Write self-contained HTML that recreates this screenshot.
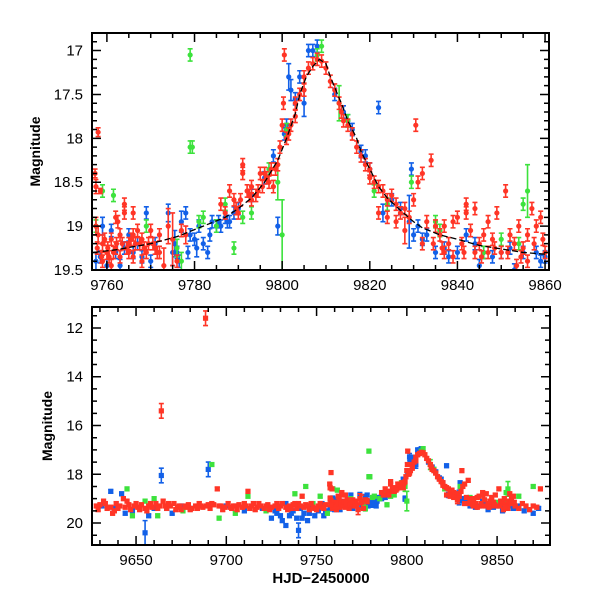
<!DOCTYPE html>
<html><head><meta charset="utf-8"><style>
html,body{margin:0;padding:0;background:#fff}
svg{display:block}
text{font-family:"Liberation Sans",Arial,sans-serif;fill:#000}
</style></head><body>
<svg id="chart" width="600" height="600" viewBox="0 0 600 600">
<defs>
<clipPath id="clipTop"><rect x="92" y="33" width="457" height="237"/></clipPath>
<clipPath id="clipBot"><rect x="92" y="307" width="458" height="238"/></clipPath>
</defs>
</svg>
<script>
// model curve (day, mag)
const modelDays=[9757,9762,9770,9776,9782,9787,9790,9793,9796,9799,9801,9803,9804,9805.5,9807,9808.5,9810,9811,9812,9813.5,9815,9817,9818,9820,9822,9824,9827,9830,9832,9836,9840,9845,9850,9855,9860];
const modelMags=[19.3,19.27,19.2,19.12,19.0,18.9,18.8,18.68,18.5,18.25,18.0,17.72,17.5,17.3,17.18,17.1,17.15,17.3,17.42,17.6,17.8,18.0,18.15,18.35,18.55,18.68,18.82,18.95,19.02,19.1,19.15,19.22,19.26,19.3,19.32];
// red series [day, mag, err]
const redPts=[[9757.3,18.4,.05],[9757.5,18.55,.08],[9758,17.93,.05],[9758.5,18.6,.03],[9757.5,19.0,.1],[9758,19.1,.1],[9759,19.2,.1],[9760,19.3,.08],[9761,19.15],[9762,19.25],[9762.5,18.95],[9763,19.1],[9764,18.75],[9764,18.85],[9765,19.2],[9766,19.1],[9767,19.05],[9767.5,19.2],[9768,19.15],[9769,19.3],[9770,19.05],[9771,19.25],[9772,19.1],[9774,19.0,.2],[9775,19.15,.3],[9776,19.4],[9777,19.05],[9773,19.45,.2],[9759,19.4],[9760.5,19.35],[9761,19.45],[9763,19.35],[9765,19.3],[9768,19.4],[9770.5,19.2],[9772,19.3],[9766,19.35],[9778,19.1,.1],
[9759.5,19.15],[9760.2,19.25],[9761.5,19.3],[9762.2,19.2],[9763.5,19.2],[9764.5,19.25],[9765.5,19.15],[9766.5,19.2],[9768.5,19.25],[9769.5,19.2],[9771.5,19.3],[9762,18.9],[9766,18.85],[9758.8,19.35],[9757.8,19.25],
[9786,18.75],[9787,18.85],[9789.5,18.8],[9790.5,18.7],[9792.5,18.65],[9794.5,18.6],[9795.5,18.55],[9796.5,18.45],[9798.5,18.35],
[9788,18.6],[9789,18.7],[9790,18.85],[9791,18.3],[9791,18.4],[9792,18.6],[9793,18.7],[9793,18.55],[9794,18.65],[9795,18.4],[9796,18.4],[9797,18.5],[9797.5,18.35],[9798,18.55],[9799,18.3],[9799.5,18.1],[9800,17.85],[9800.3,17.6],[9800.5,17.05],[9801,18.0],[9801.5,17.95],[9802,17.85],[9803,17.6],[9803,17.75],[9804,17.5],[9805,17.45],[9805,17.3],[9806,17.2],[9807,17.15],[9808,17.1],[9809,17.12],[9810,17.2],[9811,17.35],[9812,17.45],[9813,17.6],[9813.5,17.7],[9814,17.8],[9815,17.85],[9816,17.95],[9817,18.1],[9818,18.2],[9819,18.3],[9820,18.35],[9820,18.45],[9821,18.5],[9822,18.55],[9823,18.6],[9824,18.7],[9825,18.65],[9826,18.75],[9827,18.85],[9828,18.8],[9829,18.9],[9830,18.7],[9830.5,17.85],[9831,18.5],[9832,18.4],[9833,18.95],[9834,18.25],[9835,19.0],[9836,19.1],[9837,19.0],[9838,19.2],[9839,18.95],[9840,18.9],[9841,19.2],[9842,18.75],[9842,18.85],[9843,19.05],[9844,18.8],[9845,19.2],[9846,19.1],[9847,18.95],[9848,19.15],[9849,18.85],[9850,19.3],[9851,18.6],[9852,19.1],[9853,19.2],[9854,19.0],[9855,19.25],[9856,19.4],[9856,19.1],[9857,18.8],[9858,19.0],[9859,18.9],[9860,19.3],[9853.5,19.45],[9847,19.3],[9837,19.3],[9839,19.35],[9844,19.3],[9822,18.85],[9824,18.9],[9826,18.95],[9828,19.05,.15],[9832,19.2],
[9834.5,19.2],[9836.5,19.25],[9841.5,19.3],[9845.5,19.35],[9848.5,19.25],[9851.5,19.3],[9854.5,19.35],[9857.5,19.2],[9859.5,19.15],
[9628,19.3],[9630,19.25],[9632,19.1],[9634,19.4],[9636,19.35],[9637,19.6],[9639,19.2],[9641,19.3],[9643,19.0],[9645,19.1],[9647,19.45],[9649,19.3],[9651,19.35],[9653,19.25],[9655,19.4],[9657,19.3],[9659,19.35],[9661,19.2],[9663,19.3],[9664,15.4,.3],[9665,19.1],[9667,19.4],[9669,19.3],[9671,19.2],[9673,19.35],[9675,19.45],[9677,19.3],[9679,19.25],[9681,19.4],[9683,19.3],[9685,19.2],[9687,19.35],[9688.5,11.6,.3],[9689,19.3],[9691,19.4],[9693,19.25],[9695,18.6],[9697,19.3],[9699,19.35],[9701,19.2],[9703,19.4],[9705,19.3],[9707,19.25],[9709,19.35],[9711,19.3],[9713,19.4],[9715,19.2],[9717,19.35],[9719,19.3],[9721,19.4],[9723,19.25],[9725,19.35],[9727,19.3],[9729,19.4],[9731,19.2],[9733,19.35],[9735,19.3],[9737,19.25],[9739,19.4],[9741,19.3],[9743,19.35],[9745,19.3],[9747,19.2],[9749,19.4],[9751,19.3],[9753,19.35],[9755,19.25],[9629,19.45],[9633,19.2],[9638,19.5],[9644,19.35],[9650,19.2],[9656,19.5],[9662,19.4],[9668,19.2],[9674,19.3],[9680,19.45],[9686,19.3],[9692,19.2],[9698,19.45],[9704,19.3],[9710,19.2],[9716,19.45],[9722,19.3],[9728,19.2],[9734,19.45],[9740,19.2],[9746,19.45],[9752,19.2],[9712,18.7],[9742,18.9],[9862,19.4],[9864,19.2],[9866,19.3],[9868,19.45],[9870,19.3],[9872,19.35],[9874,18.6],
[9640,19.4],[9646,19.25],[9652,19.45],[9658,19.2],[9666,19.3],[9672,19.45],[9678,19.35],[9684,19.4],[9690,19.25],[9696,19.3],[9702,19.35],[9706,19.45],[9714,19.3],[9718,19.2],[9724,19.45],[9730,19.3],[9736,19.4],[9738,19.2],[9744,19.25],[9748,19.35],[9750,19.45],[9754,19.4]];
// blue series
const bluePts=[[9757.5,19.4,.1],[9758.5,19.35],[9759,19.0,.1],[9760,19.45],[9761,19.05],[9762,19.3],[9763,19.45],[9764,19.25],[9765,19.1],[9766,19.3],[9767,19.2],[9768,19.35],[9769,18.85],[9770,19.4],[9771,19.2],[9774,18.85,.1],[9775,19.3,.15],[9776,19.3],[9777,18.95,.12],[9778,18.85],[9779,19.1],[9780,19.15],[9781,19.0],[9782,19.2],[9783,19.3],[9784,18.95],[9785,19.0],[9786,19.0],[9787,18.9],[9788,18.95],[9790,18.8],[9793,18.65],[9796,18.45],[9798,18.2],[9799,19.0,.1],[9800.5,17.95],[9801,17.85],[9801.5,17.3,.15],[9802,17.45,.12],[9803,17.55],[9804,17.3],[9805,17.6,.15],[9806,17.0],[9807,17.0],[9808,16.95],[9812,17.5],[9814,17.7],[9815,17.8],[9816,17.9],[9818,18.15],[9819,18.2],[9820,18.35],[9822,17.65],[9823,18.85,.1],[9825,18.7],[9827,18.8],[9829,18.95,.3],[9829.5,18.35],[9830,19.1],[9831,19.0],[9832,19.15],[9833,19.1],[9835,19.3],[9837,19.25],[9838,19.35],[9840,19.3],[9842,19.1],[9844,19.2],[9846,19.3],[9848,19.35],[9850,19.3],[9852,19.25],[9855,19.3],[9858,19.3],[9859,19.4],[9860,19.35],[9845,19.45],[9853,19.5],
[9775.5,19.2,.15],[9776.5,19.4],[9778.5,19.3],[9780.5,19.25,.1],[9783.5,19.1],[9785.5,18.95],[9787.5,18.95],[9789,18.85],
[9631,19.3],[9636,18.7],[9638,19.4],[9642,18.8],[9644,19.6],[9648,19.5],[9655,20.4,.5],[9657,19.7],[9660,19.4],[9664,18.05,.3],[9667,19.4],[9670,19.6],[9675,19.3],[9680,19.4],[9690,17.8,.3],[9700,19.3],[9710,19.5],[9720,19.4],[9725,19.8],[9728,19.6],[9731,19.9],[9733,20.1],[9735,19.7],[9737,19.5],[9739,19.8],[9741,19.4],[9743,19.6],[9745,19.9],[9747,19.3],[9749,19.7],[9751,19.5],[9753,19.2],[9755,19.5],[9740,20.3,.3],[9733,19.2],[9862,19.3],[9865,19.5],[9870,19.6],[9873,19.4],
[9727,19.5],[9730,19.7],[9736,19.6],[9742,19.8],[9746,19.6],[9750,19.4],[9754,19.7]];
// green series
const greenPts=[[9757.5,19.0],[9759,18.6],[9761.5,18.65],[9769,19.0],[9776,19.25,.1],[9777,19.4,.1],[9779,17.05],[9779,18.1],[9779.5,18.1],[9781,18.95],[9782,18.9],[9785,19.0],[9787,18.75],[9789,19.25],[9791,18.9],[9793,18.85],[9797,18.35],[9799,18.5,.2],[9800,19.1,.4],[9801,17.9],[9808,17.05],[9809,16.95],[9813,17.6,.2],[9815,17.8],[9821,18.6],[9824,18.75],[9829.5,18.5],[9835,18.95],[9836,19.05],[9846,19.3],[9850,19.15],[9854,19.2],[9855,18.75],[9856,18.6,.3],
[9634,19.35],[9645,18.6],[9648,19.7],[9655,19.1],[9660,19.0],[9662,19.7],[9676,19.5],[9692,17.6],[9696,19.8],[9705,19.6],[9712,18.9],[9722,19.5],[9738,18.8],[9744,18.5],[9748,19.2],[9752,18.9],[9756,19.6],[9862,18.9],[9870,18.5]];
const topXTicks=[9760,9780,9800,9820,9840,9860];
const topYTicks=[17,17.5,18,18.5,19,19.5];
const botXTicks=[9650,9700,9750,9800,9850];
const botYTicks=[12,14,16,18,20];

const NS='http://www.w3.org/2000/svg';
const svg=document.getElementById('chart');
function mk(tag,attrs,parent){const e=document.createElementNS(NS,tag);for(const k in attrs)e.setAttribute(k,attrs[k]);(parent||svg).appendChild(e);return e;}

const panels=[
 {name:'top',x0:92,x1:549,y0:33,y1:270,d0:9756.6,d1:9860.9,m0:16.8,m1:19.5,clip:'clipTop',xt:topXTicks,yt:topYTicks,xMinor:5,yMinor:0.1,sq:false},
 {name:'bottom',x0:92,x1:550,y0:307,y1:545,d0:9625.6,d1:9879.3,m0:11.14,m1:20.9,clip:'clipBot',xt:botXTicks,yt:botYTicks,xMinor:10,yMinor:0.5,sq:true}
];
const colors={red:'#ff3526',blue:'#1260e8',green:'#3de23d'};

panels.forEach(p=>{
 const sx=d=>p.x0+(d-p.d0)/(p.d1-p.d0)*(p.x1-p.x0);
 const sy=m=>p.y0+(m-p.m0)/(p.m1-p.m0)*(p.y1-p.y0);
 const g=mk('g',{'clip-path':'url(#'+p.clip+')'});
 
 
 const series=[['blue',bluePts],['green',greenPts],['red',redPts]];
 series.forEach(([c,pts])=>{
  const sg=mk('g',{},g);
  
  
  pts.forEach(pt=>{
   const e=pt[2]===undefined?0.07:pt[2];
   const x=sx(pt[0]),y=sy(pt[1]),ya=sy(pt[1]-e),yb=sy(pt[1]+e);
   mk('path',{d:`M${x},${ya}V${yb}M${x-2.5},${ya}H${x+2.5}M${x-2.5},${yb}H${x+2.5}`,stroke:colors[c],'stroke-width':1.6,fill:'none'},sg);
   let m;
   if(p.sq){m=mk('rect',{x:x-2.6,y:y-2.6,width:5.2,height:5.2,fill:colors[c]},sg);}
   else{m=mk('circle',{cx:x,cy:y,r:2.6,fill:colors[c]},sg);}
   
   
  });
 });
 if(p.name==='top'){
  let d='';modelDays.forEach((dd,i)=>{d+=(i?'L':'M')+sx(dd)+','+sy(modelMags[i]);});
  const ml=mk('path',{d:d,stroke:'#000','stroke-width':1.3,fill:'none','stroke-dasharray':'6,3'},g);
  
  
 }
 const fr=mk('rect',{x:p.x0,y:p.y0,width:p.x1-p.x0,height:p.y1-p.y0,fill:'none',stroke:'#000','stroke-width':2});
 
 
 const tg=mk('g',{stroke:'#000','stroke-width':1.5});
 
 
 let tp='';
 for(let d=Math.ceil(p.d0/p.xMinor)*p.xMinor;d<=p.d1;d+=p.xMinor){
  const x=sx(d);const maj=p.xt.some(t=>Math.abs(t-d)<1e-6);const L=maj?9:5;
  tp+=`M${x},${p.y1}V${p.y1-L}M${x},${p.y0}V${p.y0+L}`;
 }
 for(let k=Math.ceil(p.m0/p.yMinor-1e-6);k*p.yMinor<=p.m1+1e-6;k++){
  const m=k*p.yMinor;const y=sy(m);const maj=p.yt.some(t=>Math.abs(t-m)<1e-6);const L=maj?9:5;
  tp+=`M${p.x0},${y}H${p.x0+L}M${p.x1},${y}H${p.x1-L}`;
 }
 mk('path',{d:tp,fill:'none'},tg);
 p.xt.forEach(t=>{const tx=mk('text',{x:sx(t),y:p.y1+20,'text-anchor':'middle','font-size':15});tx.textContent=t;
  
  });
 p.yt.forEach(t=>{const tx=mk('text',{x:p.x0-9,y:sy(t)+5,'text-anchor':'end','font-size':15});tx.textContent=t;
  
  });
 const yl=mk('text',{x:0,y:0,transform:`translate(${p.name==='top'?40:52},${(p.y0+p.y1)/2}) rotate(-90)`,'text-anchor':'middle','font-size':14,'font-weight':'bold'});
 yl.textContent='Magnitude';
 
 
});
const xl=mk('text',{x:321,y:583,'text-anchor':'middle','font-size':15,'font-weight':'bold'});
xl.textContent='HJD\u22122450000';


</script>
</body></html>
